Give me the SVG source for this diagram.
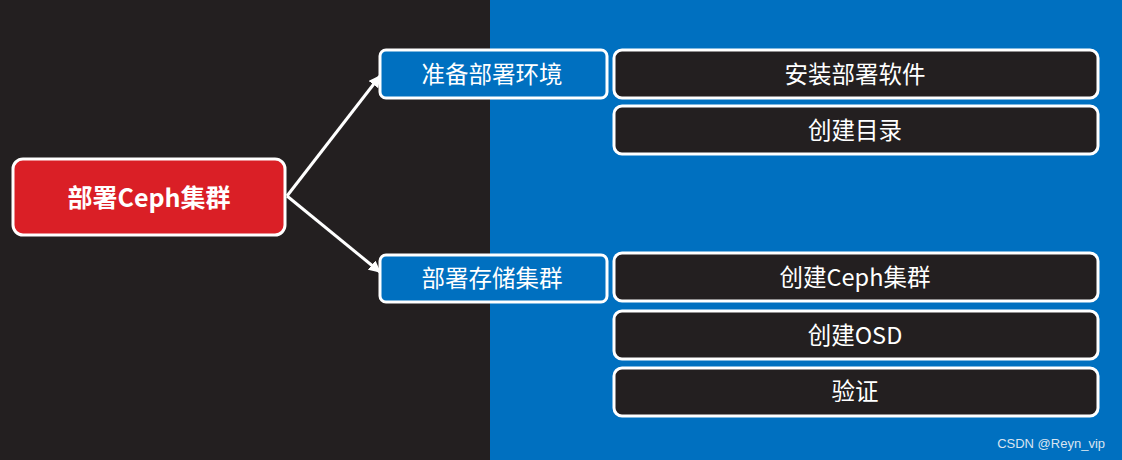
<svg xmlns="http://www.w3.org/2000/svg" width="1122" height="460" viewBox="0 0 1122 460">
<style>
.t{font-family:"Noto Sans CJK SC","Liberation Sans",sans-serif;fill:#fff;text-anchor:middle;dominant-baseline:central}
.box{stroke:#fff;stroke-width:3}
.leaf{fill:#231F20}
.mid{fill:#0070C0}
.conn{stroke:#fff;stroke-width:3;fill:none}
</style>
<defs>
<marker id="ah" viewBox="0 0 10 10" refX="9" refY="5" markerWidth="4" markerHeight="4" orient="auto" markerUnits="strokeWidth">
<path d="M0,0 L10,5 L0,10 z" fill="#fff"/>
</marker>
</defs>
<rect x="0" y="0" width="490" height="460" fill="#231F20"/>
<rect x="490" y="0" width="632" height="460" fill="#0070C0"/>
<g id="connectors">
<line class="conn" x1="287" y1="196" x2="380" y2="76" marker-end="url(#ah)"/>
<line class="conn" x1="287" y1="196" x2="380" y2="272" marker-end="url(#ah)"/>
</g>
<g id="root">
<rect class="box" x="13" y="159" width="272" height="76" rx="10" fill="#DA1F26"/>
<text class="t" x="149" y="196" font-size="25" font-weight="bold">部署Ceph集群</text>
</g>
<g id="prepare">
<rect class="box mid" x="380" y="50" width="227" height="48" rx="6"/>
<text class="t" x="492" y="73" font-size="23.5">准备部署环境</text>
</g>
<g id="deploy">
<rect class="box mid" x="380" y="255" width="227" height="47" rx="6"/>
<text class="t" x="492" y="277" font-size="23.5">部署存储集群</text>
</g>
<g id="install">
<rect class="box leaf" x="614" y="50" width="484" height="48" rx="8"/>
<text class="t" x="855" y="73" font-size="23.5">安装部署软件</text>
</g>
<g id="mkdir">
<rect class="box leaf" x="614" y="106" width="484" height="48" rx="8"/>
<text class="t" x="855" y="129" font-size="23.5">创建目录</text>
</g>
<g id="create-cluster">
<rect class="box leaf" x="614" y="253" width="484" height="48" rx="8"/>
<text class="t" x="855" y="276" font-size="23.5">创建Ceph集群</text>
</g>
<g id="create-osd">
<rect class="box leaf" x="614" y="311" width="484" height="48" rx="8"/>
<text class="t" x="855" y="334" font-size="23.5">创建OSD</text>
</g>
<g id="verify">
<rect class="box leaf" x="614" y="368" width="484" height="48" rx="8"/>
<text class="t" x="855" y="390" font-size="23.5">验证</text>
</g>
<text x="1105" y="443" font-family="'Liberation Sans',sans-serif" font-size="13" fill="#D8E4F0" text-anchor="end" dominant-baseline="central">CSDN @Reyn_vip</text>
</svg>
